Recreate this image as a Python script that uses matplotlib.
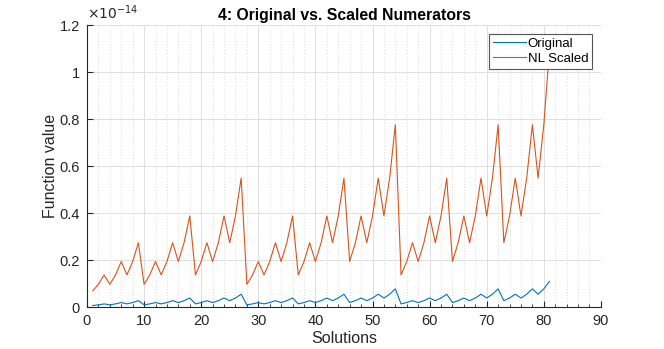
import matplotlib
matplotlib.use('agg')
import matplotlib.pyplot as plt
from matplotlib.ticker import MultipleLocator

# values in units of 1e-14
solutions = list(range(1, 82))
original = [
    0.0069, 0.0097, 0.0137, 0.0097, 0.0137, 0.0194, 0.0137, 0.0194, 0.0274,
    0.0097, 0.0137, 0.0194, 0.0137, 0.0194, 0.0274, 0.0194, 0.0274, 0.0388,
    0.0137, 0.0194, 0.0274, 0.0194, 0.0274, 0.0388, 0.0274, 0.0388, 0.0549,
    0.0097, 0.0137, 0.0194, 0.0137, 0.0194, 0.0274, 0.0194, 0.0274, 0.0388,
    0.0137, 0.0194, 0.0274, 0.0194, 0.0274, 0.0388, 0.0274, 0.0388, 0.0549,
    0.0194, 0.0274, 0.0388, 0.0274, 0.0388, 0.0549, 0.0388, 0.0549, 0.0776,
    0.0137, 0.0194, 0.0274, 0.0194, 0.0274, 0.0388, 0.0274, 0.0388, 0.0549,
    0.0194, 0.0274, 0.0388, 0.0274, 0.0388, 0.0549, 0.0388, 0.0549, 0.0776,
    0.0274, 0.0388, 0.0549, 0.0388, 0.0549, 0.0776, 0.0549, 0.0776, 0.1098,
]
nl_scaled = [
    0.069, 0.097, 0.137, 0.097, 0.137, 0.194, 0.137, 0.194, 0.274,
    0.097, 0.137, 0.194, 0.137, 0.194, 0.274, 0.194, 0.274, 0.388,
    0.137, 0.194, 0.274, 0.194, 0.274, 0.388, 0.274, 0.388, 0.549,
    0.097, 0.137, 0.194, 0.137, 0.194, 0.274, 0.194, 0.274, 0.388,
    0.137, 0.194, 0.274, 0.194, 0.274, 0.388, 0.274, 0.388, 0.549,
    0.194, 0.274, 0.388, 0.274, 0.388, 0.549, 0.388, 0.549, 0.776,
    0.137, 0.194, 0.274, 0.194, 0.274, 0.388, 0.274, 0.388, 0.549,
    0.194, 0.274, 0.388, 0.274, 0.388, 0.549, 0.388, 0.549, 0.776,
    0.274, 0.388, 0.549, 0.388, 0.549, 0.776, 0.549, 0.776, 1.098,
]
yticks = [0, 0.2, 0.4, 0.6, 0.8, 1, 1.2]
ytick_labels = ['0', '0.2', '0.4', '0.6', '0.8', '1', '1.2']

plt.rcParams['font.family'] = ['Liberation Sans', 'DejaVu Sans']
axcol = '#262626'

fig = plt.figure(figsize=(6.64, 3.49), dpi=100)
ax = fig.add_axes([0.131, 0.120, 0.774, 0.808])

ax.plot(solutions, original, color='#0072BD', lw=0.8, label='Original')
ax.plot(solutions, nl_scaled, color='#D95319', lw=0.8, label='NL Scaled')

ax.set_xlim(0, 90)
ax.set_ylim(0, 1.2)
ax.set_xticks(range(0, 91, 10))
ax.xaxis.set_minor_locator(MultipleLocator(2))
ax.set_yticks(yticks)
ax.set_yticklabels(ytick_labels)

ax.grid(True, which='major', color='#dfdfdf', lw=0.7)
ax.grid(True, which='minor', axis='x', color='#cfcfcf', lw=0.6, ls=(0, (1, 2.5)))
ax.set_axisbelow(True)

for s in ['top', 'right']:
    ax.spines[s].set_visible(False)
for s in ['left', 'bottom']:
    ax.spines[s].set_color(axcol)
    ax.spines[s].set_linewidth(0.8)
ax.tick_params(which='both', direction='in', colors=axcol, labelsize=10.5, pad=5)
ax.tick_params(which='major', length=4)
ax.tick_params(which='minor', length=2.5)
ax.tick_params(axis='y', which='minor', left=False)

ax.set_xlabel('Solutions', fontsize=11.5, color=axcol, labelpad=2)
ax.set_ylabel('Function value', fontsize=11.5, color=axcol, labelpad=1)
ax.set_title('4: Original vs. Scaled Numerators', fontsize=11.3, fontweight='bold', pad=4)
ax.text(0.0, 1.012, r'$\times 10^{-14}$', transform=ax.transAxes, fontsize=10,
        color=axcol, ha='left', va='bottom')

leg = ax.legend(loc='upper right', bbox_to_anchor=(0.983, 0.97), fontsize=9.5,
                fancybox=False, framealpha=1, edgecolor='#555555',
                handlelength=2.5, handletextpad=0.1, borderpad=0.3,
                labelspacing=0.2, borderaxespad=0)
leg.get_frame().set_linewidth(0.8)

plt.savefig('out.png', dpi=100)
